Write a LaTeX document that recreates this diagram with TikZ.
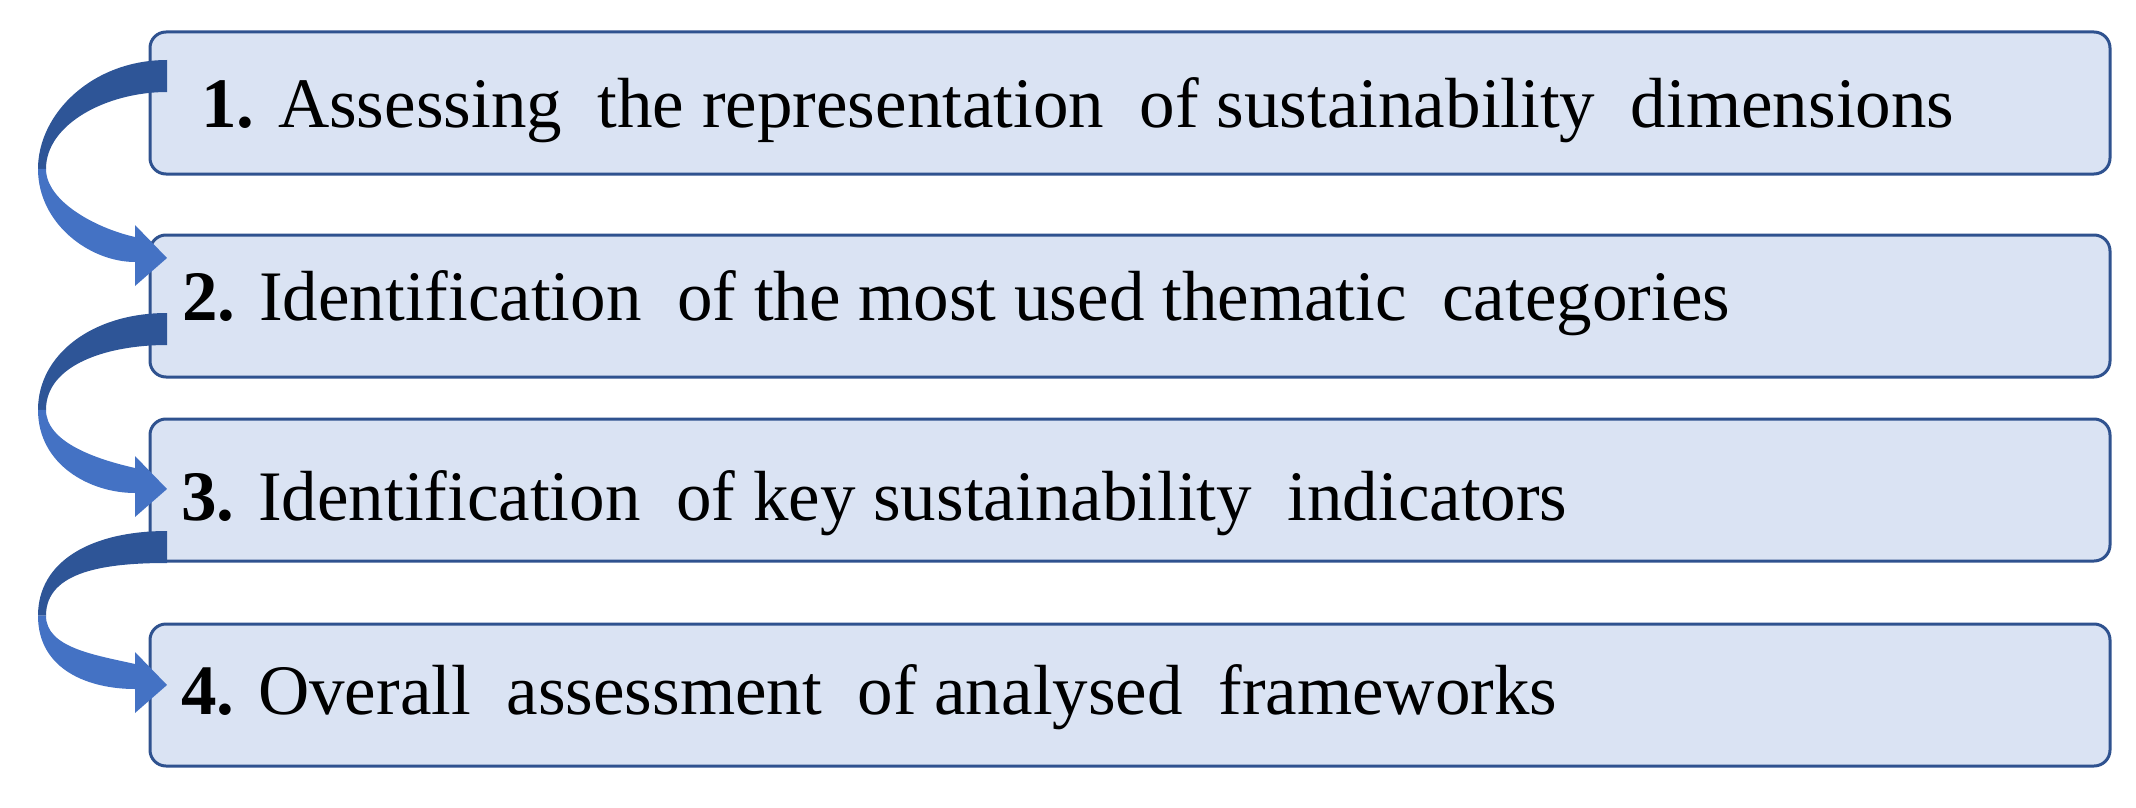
\documentclass[tikz,border=0pt]{standalone}
\usepackage{fontspec}
\setmainfont{Liberation Serif}
\usetikzlibrary{positioning,calc}
\definecolor{boxfill}{HTML}{DAE3F3}
\definecolor{boxline}{HTML}{2F528F}
\definecolor{arrowdark}{HTML}{2E5597}
\definecolor{arrowlight}{HTML}{4472C4}

\begin{document}
\begin{tikzpicture}[x=1pt, y=-1pt,
  stepbox/.style={draw=boxline, fill=boxfill, line width=3pt, rounded corners=16pt,
    minimum width=1960pt, minimum height=142pt, outer sep=0pt},
  steptext/.style={anchor=base west, inner sep=0pt, font=\fontsize{71}{85}\selectfont}]
\useasboundingbox (0,0) rectangle (2136,808);

\node[stepbox] (s1) at (1130,103) {};
\node[stepbox, below=61pt of s1] (s2) {};
\node[stepbox, below=42pt of s2] (s3) {};
\node[stepbox, below=63pt of s3] (s4) {};

\node[steptext] (t1) at ($(s1.west)+(51,24)$) {\textbf{1.} Assessing~ the representation~ of sustainability~ dimensions};
\node[steptext] (t2) at ($(s2.west)+(32,14.5)$) {\textbf{2.} Identification~ of the most used thematic~ categories};
\node[steptext] (t3) at ($(s3.west)+(31,30.5)$) {\textbf{3.} Identification~ of key sustainability~ indicators};
\node[steptext] (t4) at ($(s4.west)+(31,19.5)$) {\textbf{4.} Overall~ assessment~ of analysed~ frameworks};

% curved arrows from one step to the next
\foreach \a/\sa/\b/\tb in {s1/28/s2/23, s2/78/s3/70, s3/112/s4/61} {
  \coordinate (S) at ($(\a.north west)+(17,\sa)$);
  \coordinate (T) at ($(\b.north west)+(17,\tb)$);
  \coordinate (L) at ($(S)!0.55!(T)+(-129,0)$);
  \coordinate (Li) at ($(L)+(8,0)$);
  \fill[arrowdark] (S) .. controls +(-75,0) and +(0,-55) .. (L) -- (Li)
    .. controls +(0,-45) and +(-60,0) .. ($(S)+(0,32)$) -- cycle;
  \fill[arrowlight] (L) .. controls +(0,55) and +(-45,0) .. ($(T)+(-32,4)$)
    -- ($(T)+(-32,28)$) -- (T) -- ($(T)+(-32,-33)$) -- ($(T)+(-32,-21)$)
    .. controls +(-40,-9) and +(0,32) .. (Li) -- cycle;
}
\end{tikzpicture}
\end{document}
